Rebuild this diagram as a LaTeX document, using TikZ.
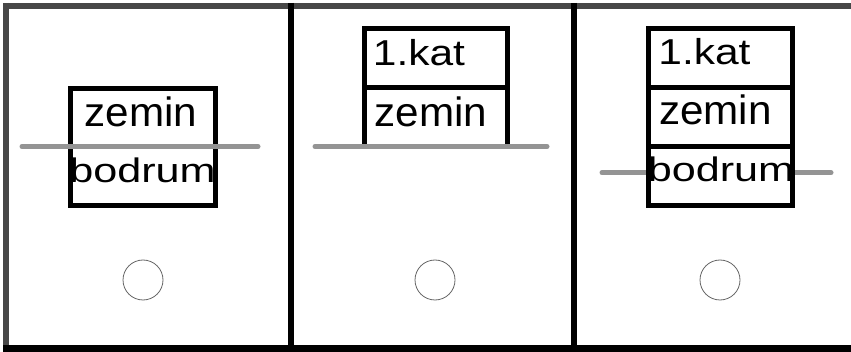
\documentclass[tikz,border=0pt]{standalone}
\usepackage{fontspec}
\usepackage{graphicx}
\setmainfont{Liberation Sans}
\newcommand\lbltext[3]{{\fontsize{#1}{#1}\selectfont\scalebox{#2}[1]{#3}}}
\begin{document}
\begin{tikzpicture}[x=1pt,y=-1pt,
  outerframe/.style={line width=6pt,color=black!72},
  divider/.style={line width=6pt,color=black},
  boxline/.style={draw=black,line width=5pt,line join=miter},
  ground/.style={line width=5pt,color=black!42,line cap=round},
  hole/.style={circle,draw=black!60,line width=0.8pt,minimum size=40pt,inner sep=0pt},
  lbl/.style={anchor=base,inner sep=0pt}]
\useasboundingbox (0,0) rectangle (851,352);
\fill[white] (0,0) rectangle (851,352);
% outer frame
\draw[outerframe] (3,6) -- (851,6);
\draw[outerframe] (6,3) -- (6,349);
\draw[line width=7pt] (3,348.5) -- (851,348.5);
\draw[divider] (291,3) -- (291,352);
\draw[divider] (574,3) -- (574,352);

% panel 1
\draw[boxline,fill=white] (70.5,89) rectangle (215.5,206);
\node[lbl] (p1zemin) at (141,127) {\lbltext{41}{1.03}{zemin}};
\node[lbl] (p1bodrum) at (142.5,183) {\lbltext{34}{1.27}{bodrum}};
\coordinate (p1gl) at (22,146.5);
\coordinate (p1gr) at (258,146.5);
\draw[ground] (p1gl) -- (p1gr);
\node[hole] (p1hole) at (143,280) {};

% panel 2
\draw[boxline] (364,146) -- (364,29) -- (507,29) -- (507,146);
\draw[boxline] (364,88) -- (507,88);
\node[lbl] (p2kat) at (419,66) {\lbltext{36}{1.18}{1.kat}};
\node[lbl] (p2zemin) at (431,127) {\lbltext{41}{1.03}{zemin}};
\coordinate (p2gl) at (315,146.5);
\coordinate (p2gr) at (547,146.5);
\draw[ground] (p2gl) -- (p2gr);
\node[hole] (p2hole) at (435,280) {};

% panel 3
\coordinate (p3gl) at (602,172.7);
\coordinate (p3bl) at (648,172.7);
\coordinate (p3br) at (792.5,172.7);
\coordinate (p3gr) at (831,172.7);
\draw[ground] (p3gl) -- (p3bl);
\draw[ground] (p3br) -- (p3gr);
\draw[boxline,fill=white] (648,29) rectangle (792.5,206);
\draw[boxline] (648,88) -- (792.5,88);
\draw[boxline] (648,147) -- (792.5,147);
\node[lbl] (p3kat) at (704.5,65) {\lbltext{36}{1.18}{1.kat}};
\node[lbl] (p3zemin) at (715.5,125) {\lbltext{41}{1.03}{zemin}};
\node[lbl] (p3bodrum) at (721,182) {\lbltext{34}{1.27}{bodrum}};
\node[hole] (p3hole) at (720,280) {};
\end{tikzpicture}
\end{document}
